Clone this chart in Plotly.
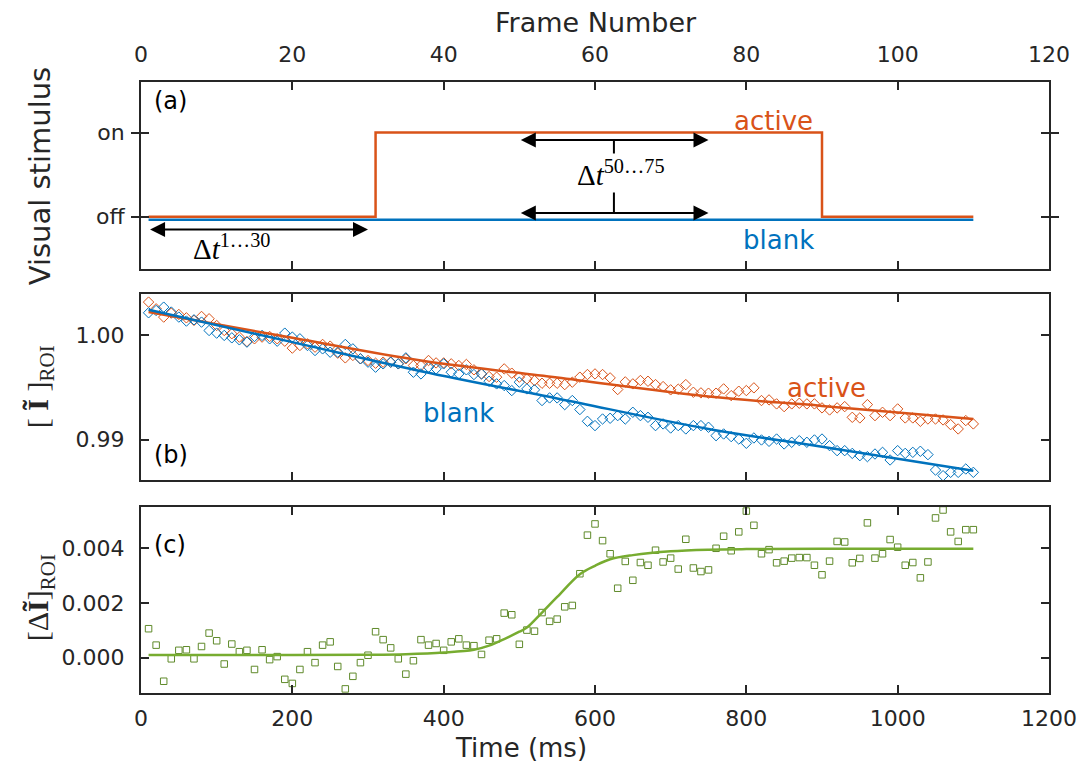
import plotly.graph_objects as go

# ---------------- data ----------------
frame_time_ms = list(range(10, 1110, 10))          # frames 1..110, 10 ms each

# (a) visual stimulus
stim_t = [10, 310, 900, 1100]
stim_active = [0.0, 1.0, 0.0, 0.0]
stim_blank_t = [10, 1100]
stim_blank = [-0.035, -0.035]
window_early = [10, 300]      # frames 1..30
window_late = [500, 750]      # frames 50..75

# (b) mean ROI intensity
I_active = [
    1.00312, 1.00248, 1.00169, 1.00207, 1.00194, 1.00162, 1.00137, 1.00175, 1.00153, 1.00089,
    1.00041, 1.00010, 0.99978, 0.99936, 0.99962, 0.99978, 0.99984, 0.99962, 0.99939, 0.99873,
    0.99898, 0.99914, 0.99882, 0.99908, 0.99892, 0.99825, 0.99780, 0.99803, 0.99771, 0.99755,
    0.99729, 0.99739, 0.99739, 0.99723, 0.99771, 0.99707, 0.99707, 0.99755,
    0.99732, 0.99732, 0.99723, 0.99707, 0.99717, 0.99666, 0.99627, 0.99602, 0.99596, 0.99675,
    0.99634, 0.99596, 0.99580, 0.99564, 0.99538, 0.99538, 0.99538, 0.99525, 0.99548, 0.99596,
    0.99621, 0.99627, 0.99621, 0.99589, 0.99478, 0.99551, 0.99532, 0.99564, 0.99557, 0.99525,
    0.99506, 0.99475, 0.99481, 0.99525, 0.99452, 0.99446, 0.99443,
    0.99443, 0.99484, 0.99420, 0.99462, 0.99468, 0.99494, 0.99373, 0.99379, 0.99341, 0.99315,
    0.99341, 0.99347, 0.99341, 0.99341, 0.99303, 0.99283, 0.99303, 0.99315, 0.99213, 0.99207,
    0.99334, 0.99229, 0.99261, 0.99229, 0.99293, 0.99207, 0.99207, 0.99175, 0.99197, 0.99197,
    0.99188, 0.99143, 0.99102, 0.99182, 0.99150,
]
I_blank = [
    1.00210, 1.00232, 1.00264, 1.00217, 1.00169, 1.00131, 1.00143, 1.00121, 1.00041, 1.00016,
    0.99994, 0.99971, 0.99952, 0.99930, 0.99984, 0.99994, 0.99962, 0.99939, 1.00016, 0.99978,
    0.99962, 0.99898, 0.99850, 0.99866, 0.99834, 0.99834, 0.99908, 0.99866, 0.99771, 0.99739,
    0.99691, 0.99723, 0.99739, 0.99723, 0.99780, 0.99643, 0.99627, 0.99691,
    0.99675, 0.99723, 0.99643, 0.99627, 0.99666, 0.99621, 0.99627, 0.99557, 0.99532, 0.99516,
    0.99468, 0.99548, 0.99484, 0.99475, 0.99373, 0.99398, 0.99398, 0.99334, 0.99373, 0.99287,
    0.99175, 0.99134, 0.99197, 0.99204, 0.99229, 0.99197, 0.99261, 0.99229, 0.99213, 0.99134,
    0.99150, 0.99111, 0.99134, 0.99102, 0.99134, 0.99134, 0.99118,
    0.99038, 0.99054, 0.99029, 0.99006, 0.98965, 0.99016, 0.98997, 0.98984, 0.99006, 0.98959,
    0.98975, 0.98990, 0.98975, 0.98997, 0.99006, 0.98943, 0.98895, 0.98895, 0.98869, 0.98847,
    0.98838, 0.98863, 0.98879, 0.98806, 0.98895, 0.98869, 0.98879, 0.98889, 0.98857, 0.98710,
    0.98656, 0.98688, 0.98688, 0.98720, 0.98688,
]
fit_b_t = [10, 200, 370, 550, 750, 900, 1100]
fit_active = [1.00217, 0.99971, 0.99755, 0.99592, 0.99411, 0.99322, 0.99197]
fit_blank = [1.00239, 0.99930, 0.99653, 0.99393, 0.99102, 0.98933, 0.98704]

# (c) difference active - blank
dI = [
    0.00106, 0.00046, -0.00086, -0.00004, 0.00027, 0.00029, -0.00004, 0.00041, 0.00090, 0.00062,
    -0.00023, 0.00050, 0.00022, 0.00027, -0.00043, 0.00029, -0.00007, 0.00004, -0.00079, -0.00094,
    -0.00043, 0.00022, -0.00018, 0.00046, 0.00058, -0.00032, -0.00114, -0.00068, -0.00018, 0.00009,
    0.00095, 0.00066, 0.00036, -0.00004, -0.00060, -0.00011, 0.00066, 0.00046, 0.00052, 0.00027,
    0.00058, 0.00069, 0.00046, 0.00044, 0.00012, 0.00064, 0.00069, 0.00163, 0.00157, 0.00049,
    0.00101, 0.00097, 0.00165, 0.00133, 0.00141, 0.00186, 0.00191, 0.00307, 0.00448, 0.00489,
    0.00428, 0.00380, 0.00254, 0.00352, 0.00283, 0.00348, 0.00338, 0.00393, 0.00350, 0.00364,
    0.00324, 0.00433, 0.00328, 0.00315, 0.00321, 0.00400, 0.00444, 0.00391, 0.00460, 0.00536,
    0.00484, 0.00380, 0.00395, 0.00347, 0.00353, 0.00364, 0.00366, 0.00366, 0.00338, 0.00303,
    0.00353, 0.00425, 0.00423, 0.00347, 0.00363, 0.00493, 0.00364, 0.00380, 0.00432, 0.00404,
    0.00338, 0.00348, 0.00292, 0.00350, 0.00511, 0.00540, 0.00460, 0.00425, 0.00468, 0.00468,
]
fit_c_t = [10, 200, 300, 350, 400, 440, 460, 480, 500, 510, 530, 550, 580, 600, 620, 650,
           700, 750, 800, 900, 1100]
fit_c = [0.00010, 0.00010, 0.00011, 0.00013, 0.00019, 0.00029, 0.00044, 0.00068, 0.00095,
         0.00110, 0.00165, 0.00222, 0.00305, 0.00336, 0.00360, 0.00375, 0.00389, 0.00395,
         0.00397, 0.00398, 0.00398]

x_ticks = [0, 200, 400, 600, 800, 1000, 1200]
frame_ticks = [0, 20, 40, 60, 80, 100, 120]

# ---------------- style ----------------
ORANGE = '#D95319'
BLUE = '#0072BD'
GREEN = '#77AC30'
GREEN_M = '#5F8A2A'
DARK = '#262626'
TICKFONT = dict(family='DejaVu Sans', size=22, color=DARK)
SERIF = 'Liberation Serif'

fig = go.Figure()

# (a)
fig.add_trace(go.Scatter(x=stim_blank_t, y=stim_blank, mode='lines',
                         line=dict(color=BLUE, width=2.5), xaxis='x', yaxis='y', showlegend=False))
fig.add_trace(go.Scatter(x=stim_t, y=stim_active, mode='lines', line_shape='hv',
                         line=dict(color=ORANGE, width=2.5), xaxis='x', yaxis='y', showlegend=False))
fig.add_trace(go.Scatter(x=[frame_ticks[0], frame_ticks[-1]], y=[None, None], mode='lines',
                         xaxis='x4', yaxis='y', showlegend=False, hoverinfo='skip'))

# (b)
fig.add_trace(go.Scatter(x=frame_time_ms, y=I_active, mode='markers',
                         marker=dict(symbol='diamond-open', size=8, color=ORANGE, line=dict(width=1)),
                         xaxis='x2', yaxis='y2', showlegend=False))
fig.add_trace(go.Scatter(x=frame_time_ms, y=I_blank, mode='markers',
                         marker=dict(symbol='diamond-open', size=8, color=BLUE, line=dict(width=1)),
                         xaxis='x2', yaxis='y2', showlegend=False))
fig.add_trace(go.Scatter(x=fit_b_t, y=fit_active, mode='lines', line_shape='spline',
                         line=dict(color=ORANGE, width=2.5), xaxis='x2', yaxis='y2', showlegend=False))
fig.add_trace(go.Scatter(x=fit_b_t, y=fit_blank, mode='lines', line_shape='spline',
                         line=dict(color=BLUE, width=2.5), xaxis='x2', yaxis='y2', showlegend=False))

# (c)
fig.add_trace(go.Scatter(x=frame_time_ms, y=dI, mode='markers',
                         marker=dict(symbol='square-open', size=6.5, color=GREEN_M, line=dict(width=1)),
                         xaxis='x3', yaxis='y3', showlegend=False))
fig.add_trace(go.Scatter(x=fit_c_t, y=fit_c, mode='lines', line_shape='spline',
                         line=dict(color=GREEN, width=2.5), xaxis='x3', yaxis='y3', showlegend=False))

axis_common = dict(showline=True, linecolor=DARK, linewidth=2, mirror='allticks', ticks='inside',
                   ticklen=8, tickwidth=2, tickcolor=DARK, showgrid=False, zeroline=False,
                   tickfont=TICKFONT)

x_common = dict(axis_common, range=[0, 1200], tickvals=x_ticks)

# page has an 8px body margin: figure is sized so the plot box sits at the reference pixels
layout = dict(
    width=1084, height=763, autosize=False,
    margin=dict(l=133, r=43, t=74, b=78, pad=0),
    paper_bgcolor='white', plot_bgcolor='white',
    xaxis=dict(x_common, anchor='y', showticklabels=False),
    xaxis2=dict(x_common, anchor='y2', showticklabels=False),
    xaxis3=dict(x_common, anchor='y3', ticklabelstandoff=5),
    xaxis4=dict(overlaying='x', side='top', anchor='y', range=[0, 120], tickvals=frame_ticks,
                showline=False, ticks='', showgrid=False, zeroline=False, tickfont=TICKFONT,
                ticklabelstandoff=15),
    yaxis=dict(axis_common, domain=[0.694, 1.0], range=[-0.62, 1.6], tickvals=[0, 1],
               ticktext=['off', 'on'], ticklabelstandoff=10),
    yaxis2=dict(axis_common, domain=[0.3486, 0.653], range=[0.98615, 1.00389],
                tickvals=[0.99, 1.00], tickformat='.2f', ticklabelstandoff=10),
    yaxis3=dict(axis_common, domain=[0.0, 0.3049], range=[-0.00129, 0.00552],
                tickvals=[0.0, 0.002, 0.004], tickformat='.3f', ticklabelstandoff=10),
)
fig.update_layout(**layout)

ann = []
C = dict(xanchor='center', yanchor='middle', showarrow=False)
# axis titles
ann.append(dict(C, text='Frame Number', xref='paper', yref='paper', x=0.501, y=1.098,
                font=dict(family='DejaVu Sans', size=27, color=DARK)))
ann.append(dict(C, text='Time (ms)', xref='paper', yref='paper', x=0.4185, y=-0.090,
                font=dict(family='DejaVu Sans', size=26, color=DARK)))
ann.append(dict(C, text='Visual stimulus', xref='paper', yref='paper', x=-0.111, y=0.846,
                textangle=-90, font=dict(family='DejaVu Sans', size=29, color=DARK)))
ann.append(dict(C, text='[ <b>Ĩ</b> ]<sub>ROI</sub>', xref='paper', yref='paper', x=-0.111, y=0.5008,
                textangle=-90, font=dict(family=SERIF, size=30, color=DARK)))
ann.append(dict(C, text='[Δ<b>Ĩ</b>]<sub>ROI</sub>', xref='paper', yref='paper', x=-0.111, y=0.1555,
                textangle=-90, font=dict(family=SERIF, size=30, color=DARK)))

# panel letters
pfont = dict(family='DejaVu Sans', size=24, color='black')
ann.append(dict(C, text='(a)', xref='x', yref='y', x=15, y=1.38, xanchor='left', font=pfont))
ann.append(dict(C, text='(b)', xref='x2', yref='y2', x=15, y=0.98854, xanchor='left', font=pfont))
ann.append(dict(C, text='(c)', xref='x3', yref='y3', x=15, y=0.004124, xanchor='left', font=pfont))

# series labels
lfont_o = dict(family='DejaVu Sans', size=26, color=ORANGE)
lfont_b = dict(family='DejaVu Sans', size=26, color=BLUE)
ann.append(dict(C, text='active', xref='x', yref='y', x=836, y=1.134, font=lfont_o))
ann.append(dict(C, text='blank', xref='x', yref='y', x=842, y=-0.276, font=lfont_b))
ann.append(dict(C, text='active', xref='x2', yref='y2', x=906, y=0.99494, font=lfont_o))
ann.append(dict(C, text='blank', xref='x2', yref='y2', x=420, y=0.99255, font=lfont_b))

# arrows
def double_arrow(x0, x1, y):
    return dict(x=x1, y=y, ax=x0, ay=y, xref='x', yref='y', axref='x', ayref='y', text='',
                showarrow=True, arrowhead=2, startarrowhead=2, arrowside='end+start',
                arrowsize=1.5, startarrowsize=1.5, arrowwidth=2, arrowcolor='black',
                standoff=0, startstandoff=0)

ann.append(double_arrow(window_early[0], window_early[1], -0.15))
ann.append(double_arrow(window_late[0], window_late[1], 0.91))
ann.append(double_arrow(window_late[0], window_late[1], 0.045))

mfont = dict(family=SERIF, size=29, color='black')
ann.append(dict(C, text='Δ<i>t</i><sup>1…30</sup>', xref='x', yref='y', x=119, y=-0.36, font=mfont))
ann.append(dict(C, text='Δ<i>t</i><sup>50…75</sup>', xref='x', yref='y', x=634, y=0.52,
                font=mfont, bgcolor='white', borderpad=1))

fig.update_layout(annotations=ann)

mid_late = (window_late[0] + window_late[1]) / 2
fig.add_shape(type='line', xref='x', yref='y', x0=mid_late, x1=mid_late, y0=0.91, y1=0.045,
              line=dict(color='black', width=2), layer='below')

fig.write_html('out.html')
